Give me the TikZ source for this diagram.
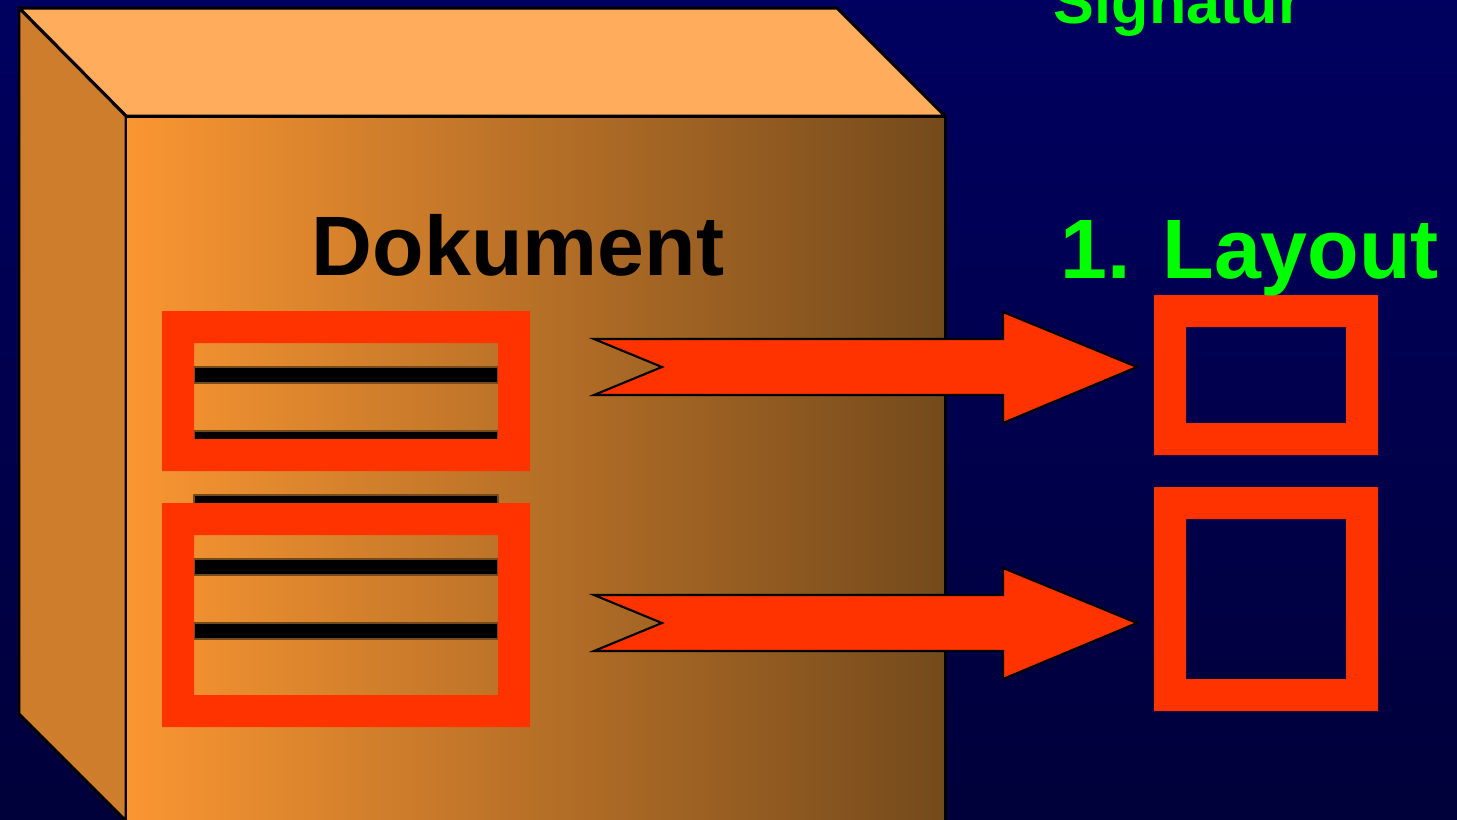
\documentclass[tikz,border=0pt]{standalone}
\usepackage{fontspec}
\setmainfont{Liberation Sans}
\usepackage{tikz}
\usetikzlibrary{arrows.meta,positioning}
\definecolor{navyTop}{RGB}{0,0,96}
\definecolor{navyBottom}{RGB}{0,0,58}
\definecolor{boxTop}{RGB}{255,173,92}
\definecolor{boxSide}{RGB}{205,125,43}
\definecolor{boxLight}{RGB}{250,150,50}
\definecolor{boxDark}{RGB}{116,74,28}
\definecolor{frameRed}{RGB}{255,51,0}
\definecolor{labelGreen}{RGB}{0,255,0}
\newcommand{\drawTailArrow}[1]{
    \begin{scope}[shift={(0,#1)}]
        \filldraw[fill=frameRed,draw=black,line width=0.6pt,line join=miter]
            (5.94,0.28) -- (6.62,0) -- (5.94,-0.28) -- (10.03,-0.28) -- (10.03,-0.56)
            -- (11.37,0) -- (10.03,0.55) -- (10.03,0.28) -- cycle;
    \end{scope}
}
\newcommand{\drawRedFrame}[4]{
    \fill[frameRed,even odd rule] (#1,#2) rectangle (#3,#4)
        ($(#1,#2)+(0.32,-0.32)$) rectangle ($(#3,#4)+(-0.32,0.32)$);
}
\usetikzlibrary{calc}

\begin{document}
\begin{tikzpicture}[line cap=round,line join=round,>=Stealth,
    bigtext/.style={font=\bfseries\fontsize{24}{28}\selectfont,anchor=base,inner sep=0pt},
    edge/.style={draw=black,line width=0.85pt}]
                \useasboundingbox (0,0) rectangle (14.57,-8.19);
                \shade[top color=navyTop,bottom color=navyBottom] (0,0) rectangle (14.57,-8.19);
                \clip (0,0) rectangle (14.57,-8.19);

                % the document box
                \filldraw[fill=boxTop,edge] (0.19,-0.08) -- (8.37,-0.08) -- (9.45,-1.16) -- (1.26,-1.16) -- cycle;
                \filldraw[fill=boxSide,edge] (0.19,-0.08) -- (1.26,-1.16) -- (1.26,-8.21) -- (0.19,-7.14) -- cycle;
                \shade[left color=boxLight,right color=boxDark] (1.26,-1.16) rectangle (9.45,-8.30);
                \draw[edge] (1.26,-8.30) -- (1.26,-1.16) -- (9.45,-1.16) -- (9.45,-8.30);

                \node[bigtext] (dokument) at (5.18,-2.75) {Dokument};

                % text lines
                \foreach \y in {3.67,4.31,4.95,5.59,6.23}
                    \filldraw[fill=black,draw=boxDark,line width=0.3pt] (1.94,-\y) rectangle (4.98,-\y-0.16);

                \drawRedFrame{1.62}{-3.11}{5.30}{-4.71}
                \drawRedFrame{1.62}{-5.03}{5.30}{-7.27}

                \drawTailArrow{-3.67}
                \drawTailArrow{-6.23}

                \drawRedFrame{11.54}{-2.95}{13.78}{-4.55}
                \drawRedFrame{11.54}{-4.87}{13.78}{-7.11}

                \node[bigtext,text=labelGreen] (layout) at (12.50,-2.78) {1. Layout};
                \node[anchor=base,inner sep=0pt,text=labelGreen,font=\bfseries\fontsize{17.4}{20}\selectfont] (signatur) at (11.78,-0.23) {Signatur};
            \end{tikzpicture}
\end{document}
